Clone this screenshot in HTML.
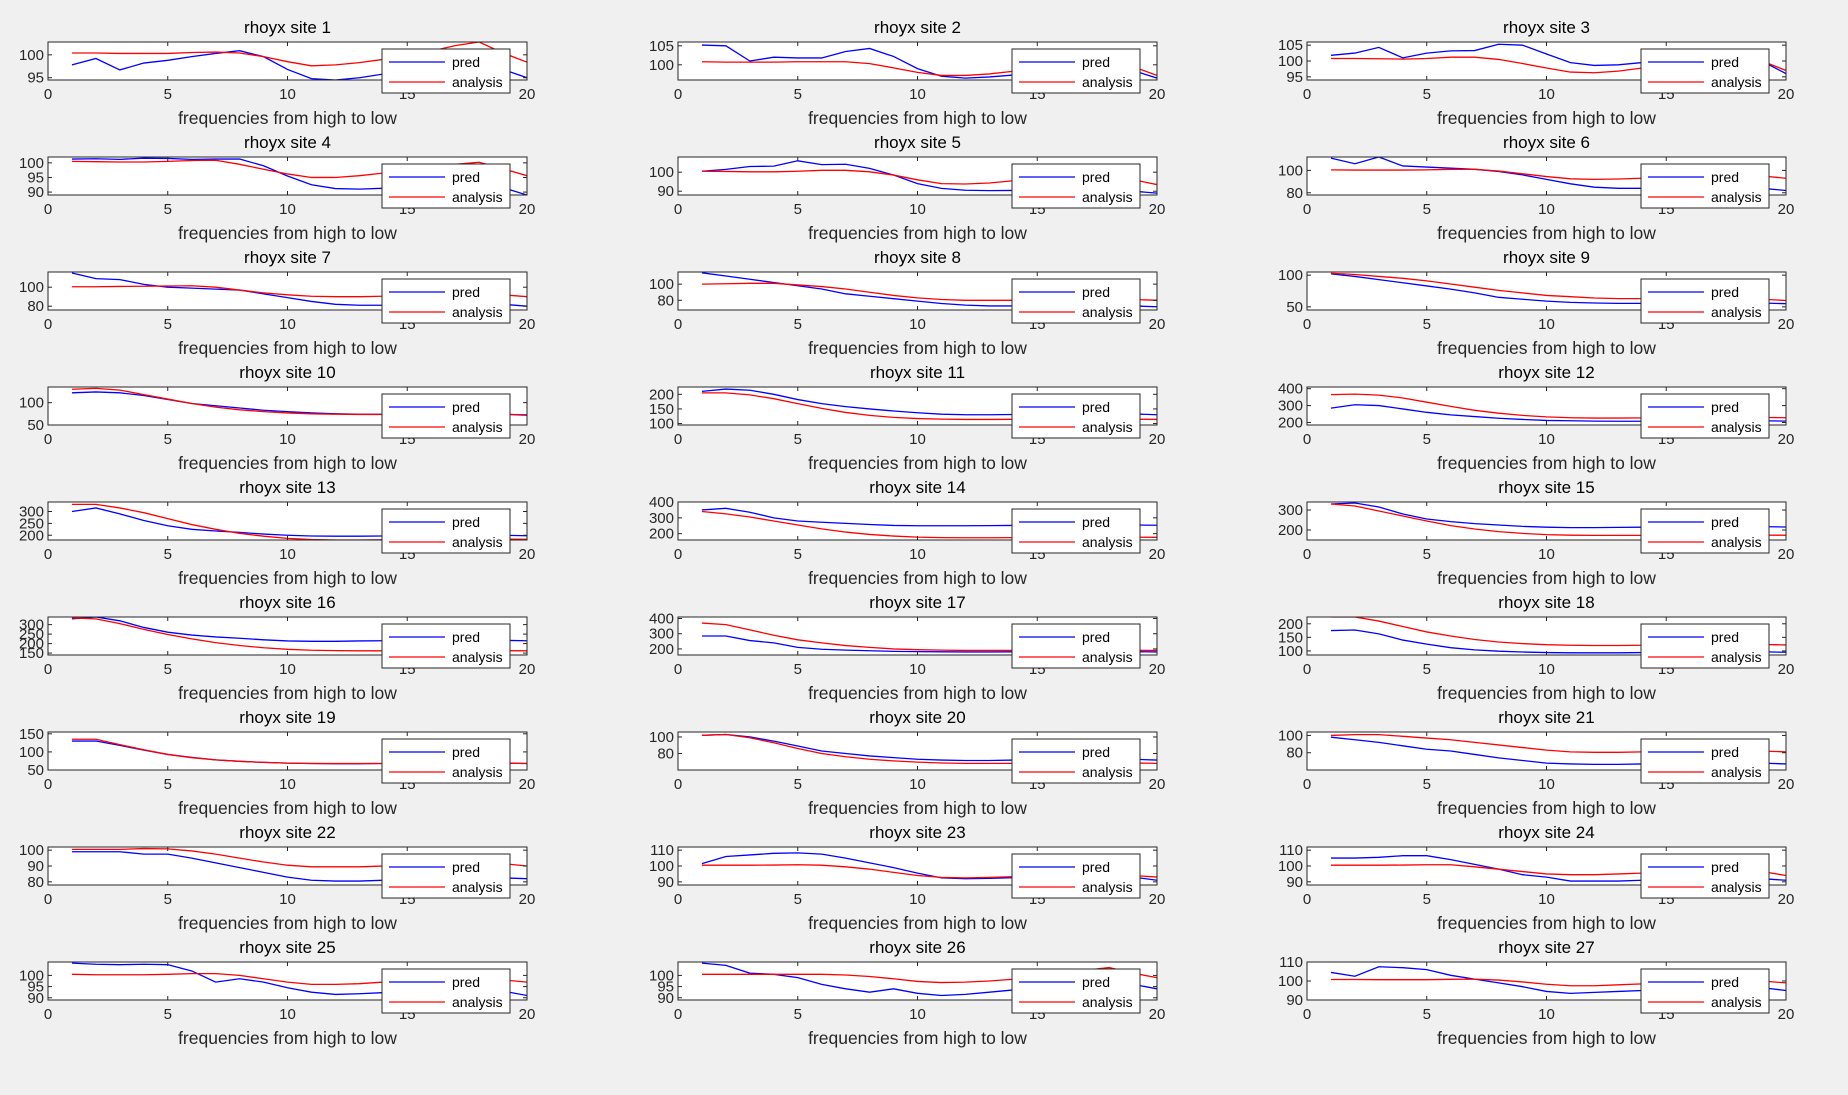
<!DOCTYPE html>
<html><head><meta charset="utf-8"><style>
html,body{margin:0;padding:0;background:#f0f0f0;}
svg{display:block;font-family:"Liberation Sans",Arial,sans-serif;}
</style></head><body>
<svg id="fig" width="1848" height="1095" viewBox="0 0 1848 1095"></svg>
<script>
const siteNames=[];for(let i=1;i<=27;i++)siteNames.push('rhoyx site '+i);
const xValues=[1,2,3,4,5,6,7,8,9,10,11,12,13,14,15,16,17,18,19,20];
const xTicks=[0,5,10,15,20];
const yLimits=[[94.5,102.8],[96,106],[94,106],[89,102],[88,108],[78,112],[76,116],[68,115],[45,105],[50,135],[95,225],[185,410],[180,340],[160,400],[150,340],[140,340],[160,410],[85,225],[50,155],[60,106],[60,104],[78,102],[88,112],[88,112],[89,106],[89,106],[90,110]];
const yTicks=[[95,100],[100,105],[95,100,105],[90,95,100],[90,100],[80,100],[80,100],[80,100],[50,100],[50,100],[100,150,200],[200,300,400],[200,250,300],[200,300,400],[200,300],[150,200,250,300],[200,300,400],[100,150,200],[50,100,150],[80,100],[80,100],[80,90,100],[90,100,110],[90,100,110],[90,95,100],[90,95,100],[90,100,110]];
const predValues=[
[97.8,99.2,96.7,98.2,98.8,99.6,100.3,100.9,99.6,96.8,94.8,94.5,95,95.8,96.5,97.2,97.8,98.3,96.8,95],
[105.2,105,101,102,101.8,101.8,103.5,104.3,102.2,99,97,96.5,96.8,97.3,98,99,100,101,98.5,96.5],
[101.8,102.5,104.3,101,102.5,103.2,103.3,105.3,105,102.2,99.5,98.6,98.8,99.5,100.5,101.5,102.5,103,100,96],
[101.3,101.4,101.2,101.6,101.5,101.2,101.3,101.3,99,95.5,92.5,91.2,91,91.3,91.6,92,92.5,93,91.5,89],
[100.5,101.5,103,103.2,106,104,104.2,102,98.5,94,91.5,90.5,90.3,90.4,90.6,91,91.5,92,90,89],
[111,106,112,104,103,102,101,99,96,92,88,85,84,84,84,84.5,85,85.5,84,82],
[115,109,108,103,100,99,98,97,93,89,85,82,81,81,81,81.5,82,83,82,80],
[114,110,106,102,98,94,88,85,82,79,76,74,73,73,73,73.5,74,74.5,73,72],
[102,98,93,88,83,78,72,65,62,59,57,56,55.5,55.5,55.5,56,56,56.5,56,55],
[122,124,122,116,107,98,93,88,83,80,77,75,74,74,74,74.5,75,75.5,74,72],
[210,218,214,200,182,168,158,150,143,137,132,130,130,131,132,133,134,135,133,130],
[285,305,300,280,260,245,235,225,218,212,210,208,207,207,208,209,210,211,210,208],
[300,315,290,262,240,225,218,212,205,200,197,196,196,197,198,199,200,201,200,198],
[350,360,335,300,280,272,265,258,252,250,250,250,251,252,253,254,255,256,255,253],
[330,335,315,280,255,242,232,225,218,214,212,212,213,214,215,216,217,218,217,215],
[330,340,320,285,260,245,235,228,220,214,212,212,214,215,216,217,218,218,217,215],
[285,285,255,240,210,198,192,188,184,182,181,180,180,181,181,182,182,183,182,180],
[175,177,163,140,125,112,104,99,96,94,93,93,93,94,95,96,97,98,97,95],
[130,130,118,105,93,85,78,74,71,69,68,67.5,67.5,68,68,68.5,69,69.5,69,68],
[102,103,100,95,89,83,80,77,75,73,72,71.5,71.5,72,72,72.5,73,73.5,73,72],
[98,95,92,88,84,82,78,74,71,68,67,66.5,66.5,67,67,67.5,68,68.5,68,67],
[99,99,99,97.5,97.5,95,92,89,86,83,81,80.5,80.5,81,81.5,82,82.5,83,82.5,82],
[101.5,106,107,108,108.3,107.5,105,102,99,95.5,92.5,92,92.2,92.6,93,93.5,94,94.5,93,91],
[105,105,105.5,106.5,106.5,104,101,98,94.5,93,90.5,90.5,90.5,91,91,91.5,92,92.5,92,91],
[105.5,105,104.8,105,104.8,102,97,98.5,97,94.5,92.5,91.5,91.8,92.3,92.8,93.3,93.8,94.3,93,91],
[105.5,104.5,101,100.5,99,96,94,92.5,94,92,91,91.5,92.5,93.5,94.5,95.5,96.5,97.5,96,94],
[104.5,102.5,107.5,107,106,103,101,99,97,94.5,93.5,94,94.5,95,95.5,96,96.5,97,96.5,95]];
const analysisValues=[
[100.4,100.4,100.3,100.3,100.3,100.5,100.6,100.4,99.6,98.5,97.6,97.8,98.3,99,99.8,100.8,102,102.8,100.4,98.4],
[100.8,100.7,100.7,100.7,100.8,100.8,100.8,100.3,99.2,98,97.2,97.2,97.6,98.3,99,100,101,101.5,99.5,97.2],
[100.8,100.8,100.7,100.6,100.8,101.2,101.2,100.5,99.2,97.8,96.5,96.3,96.8,97.8,99,100,101,101.6,100,97],
[100.5,100.4,100.3,100.3,100.5,100.8,100.9,99.5,97.8,96.2,95,95,95.6,96.5,97.5,98.5,99.5,100.2,98,95.6],
[100.5,100.4,100.2,100.2,100.5,101,101,100.2,98.5,96,94,93.8,94.3,95.5,97,98,99,99.5,96,93.5],
[100.5,100.3,100.3,100.3,100.5,101,101,99.5,97,94.5,92.5,92,92.3,93,94,95,96,96.5,95,93],
[100.5,100.5,100.8,101,101.3,101.5,100,97,94,92,90.5,90,90,90.5,91,91.5,92,92.5,92,90],
[100,100.5,101,101,99,97,94,90,86,83,81,80,80,80,80.5,81,81.5,82,81,80],
[103,101,98,95,91,86,81,76,72,68,66,64,63,63,63,63,63.5,64,62,60],
[130,132,128,118,108,98,90,84,80,77,75,74,73.5,73.5,74,74.5,75,75.5,74,73],
[205,205,198,185,168,152,138,128,121,117,115,114,114,114.5,115,115.5,116,116.5,115,114],
[365,368,362,345,320,295,272,255,242,233,228,226,226,227,228,229,230,231,230,228],
[330,330,315,295,270,245,225,208,196,187,182,180,180,181,182,183,184,185,184,183],
[340,325,305,280,255,230,210,195,185,178,175,174,174,175,176,177,178,179,178,177],
[330,320,295,270,245,222,205,192,183,177,174,173,173,173,174,174,175,175,174,174],
[335,330,305,275,248,225,205,190,178,170,165,163,162,162,163,163,164,164,163,162],
[370,360,325,290,260,240,222,210,200,195,192,190,190,190,191,191,192,192,191,190],
[225,225,210,190,170,155,142,133,127,123,121,120,120,121,122,123,124,125,124,122],
[135,135,120,106,93,84,78,74,71,69,68,68,68,68,68.5,69,69,69.5,69,68],
[102,103,99,93,86,80,76,73,71,69.5,68.5,68,68,68,68.5,68.5,69,69,68.5,68],
[100,101,101,99,97,95,92,89,86,83,81,80.5,80.5,81,81.5,82,82.5,83,82,81],
[100.5,100.5,100.5,101,100.8,99.5,97.5,95,92.5,90.5,89.5,89.5,89.5,90,90.5,91,91.5,92,91.5,90],
[100.5,100.5,100.5,100.6,100.8,100.5,99.5,98,96,94,92.8,92.5,92.8,93.3,93.8,94.3,94.8,95,94,93],
[100.5,100.5,100.5,100.6,100.8,100.8,99.5,98,96.5,95,94.5,94.5,95,95.5,96,96.5,97,97.5,96.5,94],
[100.5,100.3,100.3,100.3,100.5,100.8,100.8,100,98.5,97,96,96,96.3,97,97.5,98,98.5,99,98,97],
[100.5,100.5,100.5,100.5,100.5,100.5,100.2,99.5,98.5,97.3,96.8,97,97.5,98.3,99.5,101,102.3,103.5,101,99],
[100.8,100.8,100.7,100.7,100.7,100.9,101,100.5,99.5,98.3,97.5,97.5,98,98.5,99,99.5,100,100.5,100,99]];

const NS='http://www.w3.org/2000/svg';
const svg=document.getElementById('fig');
const colLeft=[48,678,1307],AW=479,rowTop0=42,pitch=115,AH=38;
function mk(tag,attrs,parent){const e=document.createElementNS(NS,tag);for(const k in attrs)e.setAttribute(k,attrs[k]);(parent||svg).appendChild(e);return e;}
for(let s=0;s<siteNames.length;s++){
  const c=s%3,r=Math.floor(s/3);
  const L=colLeft[c],T=rowTop0+r*pitch;
  const g=mk('g',{});
  
  
  const [y0,y1]=yLimits[s];
  const sx=v=>L+v/20*AW;
  const sy=v=>T+AH-(v-y0)/(y1-y0)*AH;
  mk('rect',{x:L,y:T,width:AW,height:AH,fill:'#fff'},g);
  const cid='clip'+s;
  const cp=mk('clipPath',{id:cid},g);mk('rect',{x:L,y:T,width:AW,height:AH},cp);
  [['pred',predValues[s],'#0000ff'],['analysis',analysisValues[s],'#ff0000']].forEach(([nm,vals,col])=>{
    const p=mk('polyline',{points:vals.map((v,i)=>sx(xValues[i])+','+sy(v)).join(' '),fill:'none',stroke:col,'stroke-width':1.3,'clip-path':'url(#'+cid+')'},g);
    
    
  });
  mk('rect',{x:L,y:T,width:AW,height:AH,fill:'none',stroke:'#262626','stroke-width':1},g);
  xTicks.forEach(t=>{
    const x=sx(t);
    mk('line',{x1:x,y1:T+AH,x2:x,y2:T+AH-4,stroke:'#262626'},g);
    mk('line',{x1:x,y1:T,x2:x,y2:T+4,stroke:'#262626'},g);
    const tx=mk('text',{x:x,y:T+AH+19,'text-anchor':'middle','font-size':15,fill:'#262626'},g);tx.textContent=t;
    
    
  });
  yTicks[s].forEach(t=>{
    const y=sy(t);
    mk('line',{x1:L,y1:y,x2:L+4,y2:y,stroke:'#262626'},g);
    mk('line',{x1:L+AW,y1:y,x2:L+AW-4,y2:y,stroke:'#262626'},g);
    const ty=mk('text',{x:L-4,y:y+5,'text-anchor':'end','font-size':15,fill:'#262626'},g);ty.textContent=t;
    
    
  });
  const ti=mk('text',{x:L+AW/2,y:T-9,'text-anchor':'middle','font-size':17,fill:'#000'},g);ti.textContent=siteNames[s];
  
  
  const xl=mk('text',{x:L+AW/2,y:T+AH+44,'text-anchor':'middle','font-size':17.5,fill:'#262626'},g);xl.textContent='frequencies from high to low';
  
  
  const lg=mk('g',{},g);
  
  
  const lx=L+334,ly=T+7;
  mk('rect',{x:lx,y:ly,width:128,height:44,fill:'#fff',stroke:'#262626','stroke-width':1},lg);
  [['pred','#0000ff',13],['analysis','#ff0000',33]].forEach(([nm,col,dy])=>{
    mk('line',{x1:lx+7,y1:ly+dy,x2:lx+63,y2:ly+dy,stroke:col,'stroke-width':1.3},lg);
    const lt=mk('text',{x:lx+70,y:ly+dy+5,'font-size':14,fill:'#000'},lg);lt.textContent=nm;
    
    
  });
}
</script>
</body></html>
